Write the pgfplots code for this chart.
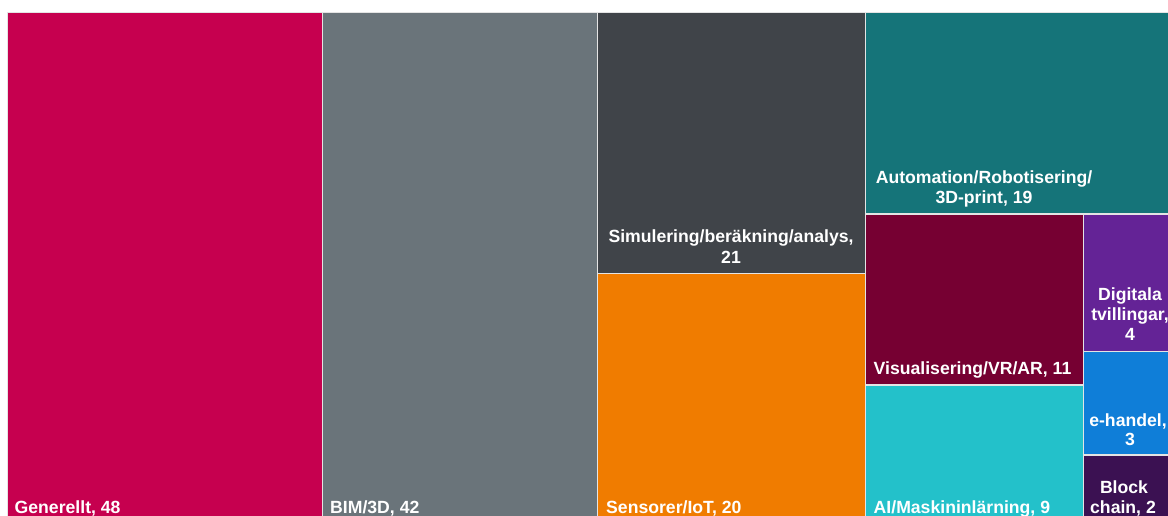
\documentclass[border=0pt]{standalone}
\usepackage{pgfplots}
\pgfplotsset{compat=1.18}
\usepackage{fontspec}
\setmainfont{Liberation Sans}
\definecolor{cGen}{HTML}{C6004F}
\definecolor{cBIM}{HTML}{6A747A}
\definecolor{cSim}{HTML}{404449}
\definecolor{cSen}{HTML}{F07C00}
\definecolor{cAut}{HTML}{157479}
\definecolor{cVis}{HTML}{760032}
\definecolor{cAI}{HTML}{23C1CA}
\definecolor{cDig}{HTML}{642396}
\definecolor{cEh}{HTML}{0F7ED8}
\definecolor{cBlk}{HTML}{3B1152}
\definecolor{gapc}{HTML}{E4E4E4}
\tikzset{lab/.style={text=white,inner sep=0pt,font=\fontsize{17.7}{20}\selectfont\bfseries}}
\begin{document}
\begin{tikzpicture}
\begin{axis}[width=1168bp,height=516bp,scale only axis,
  xmin=0,xmax=1168,ymin=0,ymax=516,y dir=reverse,hide axis,clip=true]
% Generellt, 48
\addplot[fill=cGen,draw=gapc,line width=1.3bp] coordinates {(7.7,12.3)(322.3,12.3)(322.3,530)(7.7,530)} -- cycle;
% BIM/3D, 42
\addplot[fill=cBIM,draw=gapc,line width=1.3bp] coordinates {(322.3,12.3)(597.7,12.3)(597.7,530)(322.3,530)} -- cycle;
% Simulering, 21
\addplot[fill=cSim,draw=gapc,line width=1.3bp] coordinates {(597.7,12.3)(865.8,12.3)(865.8,273.7)(597.7,273.7)} -- cycle;
% Sensorer, 20
\addplot[fill=cSen,draw=gapc,line width=1.3bp] coordinates {(597.7,273.7)(865.8,273.7)(865.8,530)(597.7,530)} -- cycle;
% Automation, 19
\addplot[fill=cAut,draw=gapc,line width=1.3bp] coordinates {(865.8,12.3)(1180,12.3)(1180,214)(865.8,214)} -- cycle;
% Visualisering, 11
\addplot[fill=cVis,draw=gapc,line width=1.3bp] coordinates {(865.8,214)(1083.3,214)(1083.3,385)(865.8,385)} -- cycle;
% AI, 9
\addplot[fill=cAI,draw=gapc,line width=1.3bp] coordinates {(865.8,385)(1083.3,385)(1083.3,530)(865.8,530)} -- cycle;
% Digitala tvillingar, 4
\addplot[fill=cDig,draw=gapc,line width=1.3bp] coordinates {(1083.3,214)(1180,214)(1180,351.7)(1083.3,351.7)} -- cycle;
% e-handel, 3
\addplot[fill=cEh,draw=gapc,line width=1.3bp] coordinates {(1083.3,351.7)(1180,351.7)(1180,455)(1083.3,455)} -- cycle;
% Block chain, 2
\addplot[fill=cBlk,draw=gapc,line width=1.3bp] coordinates {(1083.3,455)(1180,455)(1180,530)(1083.3,530)} -- cycle;

\node[lab,anchor=base west] at (axis cs:14.5,513) {Generellt, 48};
\node[lab,anchor=base west] at (axis cs:330,513) {BIM/3D, 42};
\node[lab,anchor=base] at (axis cs:731,242.3) {Simulering/beräkning/analys,};
\node[lab,anchor=base] at (axis cs:731,263.3) {21};
\node[lab,anchor=base west] at (axis cs:606,513) {Sensorer/IoT, 20};
\node[lab,anchor=base] at (axis cs:984,183.3) {Automation/Robotisering/};
\node[lab,anchor=base] at (axis cs:984,203.3) {3D-print, 19};
\node[lab,anchor=base west] at (axis cs:873.5,374) {Visualisering/VR/AR, 11};
\node[lab,anchor=base west] at (axis cs:873.5,513) {AI/Maskininlärning, 9};
\node[lab,anchor=base] at (axis cs:1130,300) {Digitala};
\node[lab,anchor=base] at (axis cs:1130,320) {tvillingar,};
\node[lab,anchor=base] at (axis cs:1130,340.5) {4};
\node[lab,anchor=base] at (axis cs:1128,426.5) {e-handel,};
\node[lab,anchor=base] at (axis cs:1130,445.5) {3};
\node[lab,anchor=base] at (axis cs:1124,493.3) {Block};
\node[lab,anchor=base] at (axis cs:1123,513.3) {chain, 2};
\end{axis}
\pgfresetboundingbox
\useasboundingbox (current axis.south west) rectangle (current axis.north east);
\end{tikzpicture}
\end{document}
